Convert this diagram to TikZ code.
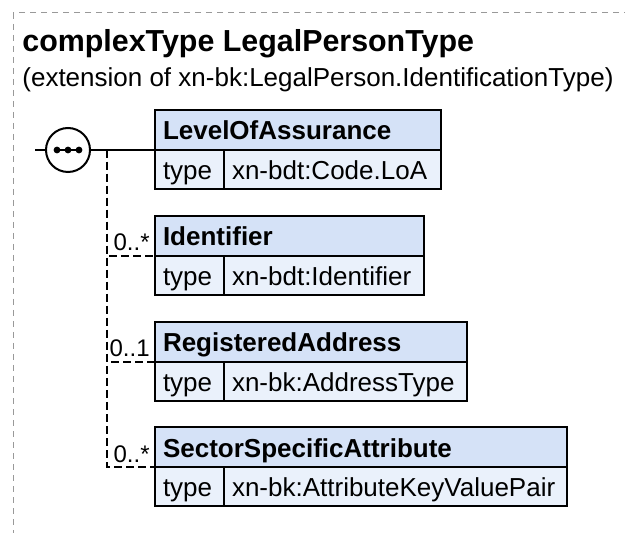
\documentclass[tikz,border=0pt]{standalone}
\usepackage{fontspec}
\setmainfont{Liberation Sans}
\usetikzlibrary{positioning}
\definecolor{hdrblue}{HTML}{D5E2F7}
\definecolor{rowblue}{HTML}{EAF1FB}
\definecolor{framegray}{HTML}{999999}

\begin{document}
\begin{tikzpicture}[x=0.5pt, y=-0.5pt,
  every node/.style={inner sep=0pt},
  frame/.style={draw=framegray, line width=0.5pt, dash pattern=on 3pt off 2.5pt},
  hdr/.style={draw, line width=1pt, fill=hdrblue, anchor=north west, outer sep=0pt,
    minimum height=20pt, text height=10pt, text depth=0pt, inner xsep=4pt, align=left,
    font=\fontsize{13}{15}\selectfont\bfseries},
  cell/.style={draw, line width=1pt, fill=rowblue, anchor=north west, outer sep=0pt,
    minimum height=19.5pt, text height=10pt, text depth=0pt, inner xsep=4pt, align=left,
    font=\fontsize{13}{15}\selectfont},
  occurs/.style={anchor=base east, font=\fontsize{12}{14}\selectfont},
  optline/.style={line width=0.9pt, dash pattern=on 4pt off 2pt}]

  \useasboundingbox (0,0) rectangle (625,533);
  \clip (0,0) rectangle (625,533);
  \draw[frame] (13,13) rectangle (660,560);

  \node[anchor=base west, font=\fontsize{15.2}{18}\selectfont\bfseries] (title) at (22,52)
    {complexType LegalPersonType};
  \node[anchor=base west, font=\fontsize{13}{16}\selectfont] (ext) at (22,87)
    {(extension of xn-bk:LegalPerson.IdentificationType)};

  % sequence compositor
  \node[circle, draw, line width=1pt, fill=white, minimum size=22pt, outer sep=0pt] (seq) at (68,150) {};
  \draw[line width=1pt] (seq.center) +(-11,0) -- +(11,0);
  \foreach \dx in {-11,0,11}
    \fill (seq.center) ++(\dx,0) circle (1.7pt);
  \coordinate (stub) at (35,150);
  \coordinate (fork) at (107,150);

  % elements
  \node[hdr, text width=135pt] (loa) at (155,110) {LevelOfAssurance};
  \node[cell, text width=26.5pt] (loatype) at (loa.south west) {type};
  \node[cell, text width=100.5pt] (loaval) at (loatype.north east) {\mbox{xn-bdt:Code.LoA}};

  \node[hdr, text width=126.5pt] (id) at (155,216) {Identifier};
  \node[cell, text width=26.5pt] (idtype) at (id.south west) {type};
  \node[cell, text width=92pt] (idval) at (idtype.north east) {\mbox{xn-bdt:Identifier}};

  \node[hdr, text width=148pt] (addr) at (155,322) {RegisteredAddress};
  \node[cell, text width=26.5pt] (addrtype) at (addr.south west) {type};
  \node[cell, text width=113.5pt] (addrval) at (addrtype.north east) {\mbox{xn-bk:AddressType}};

  \node[hdr, text width=198pt] (ssa) at (155,427) {SectorSpecificAttribute};
  \node[cell, text width=26.5pt] (ssatype) at (ssa.south west) {type};
  \node[cell, text width=163.5pt] (ssaval) at (ssatype.north east) {\mbox{xn-bk:AttributeKeyValuePair}};

  % connectors
  \draw[line width=1pt] (stub) -- (seq.west);
  \draw[line width=1pt] (seq.east) -- (loa.south west);
  \draw[optline] (fork) |- (id.south west);
  \draw[optline] (fork) |- (addr.south west);
  \draw[optline] (fork) |- (ssa.south west);

  \node[occurs] (idocc) at ([shift={(-5,-5)}]id.south west) {0..*};
  \node[occurs] (addrocc) at ([shift={(-5,-5)}]addr.south west) {0..1};
  \node[occurs] (ssaocc) at ([shift={(-5,-5)}]ssa.south west) {0..*};
\end{tikzpicture}
\end{document}
